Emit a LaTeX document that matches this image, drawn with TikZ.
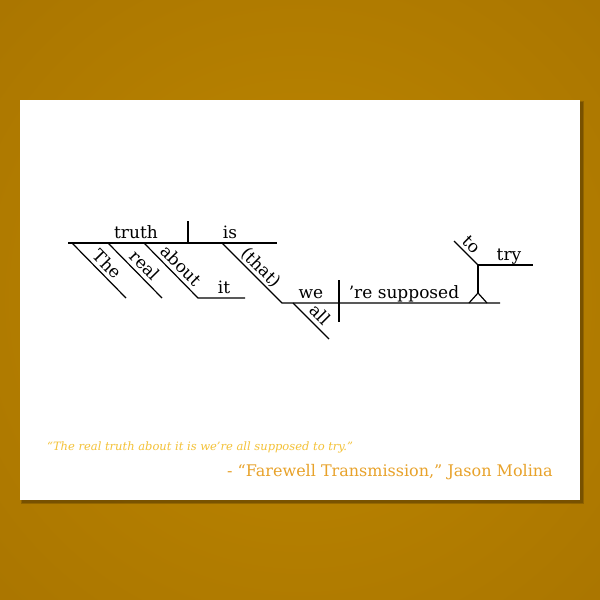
\documentclass[tikz,border=0pt]{standalone}
\usepackage{fontspec}
\setmainfont{DejaVu Serif}
\definecolor{bgin}{HTML}{BE8800}
\definecolor{bgout}{HTML}{9E6A00}
\definecolor{shadowc}{HTML}{5A3C00}
\definecolor{quotec}{HTML}{F4C238}
\definecolor{attrc}{HTML}{E8A22A}
\begin{document}
\begin{tikzpicture}[x=1pt,y=-1pt,
  rule/.style={line width=1.2pt, black},
  word/.style={font=\fontsize{17}{17}\selectfont, inner sep=0pt, anchor=base},
  slword/.style={font=\fontsize{17}{17}\selectfont, inner sep=0pt, outer sep=4.5pt, text depth=0pt, sloped, above}]
\useasboundingbox (0,0) rectangle (600,600);
\begin{scope}
\clip (0,0) rectangle (600,600);
\shade[inner color=bgin, outer color=bgout] (-400,-400) rectangle (1000,1000);
\end{scope}
% card
\fill[shadowc, opacity=0.35] (21,101) rectangle (584,504);
\fill[shadowc, opacity=0.45] (22,102) rectangle (583,503);
\fill[white] (20,100) rectangle (580,500);

% coordinates
\coordinate (b1s) at (68,243);
\coordinate (b1e) at (277,243);
\coordinate (d1t) at (188,221);
\coordinate (d1b) at (188,243);
\coordinate (theS) at (72,243);
\coordinate (theE) at (126,298);
\coordinate (realS) at (108,243);
\coordinate (realE) at (162,298);
\coordinate (abS) at (144,243);
\coordinate (abC) at (198,298);
\coordinate (abE) at (245,298);
\coordinate (thS) at (222,243);
\coordinate (thC) at (282,303);
\coordinate (b2e) at (500,303);
\coordinate (d2t) at (339,280);
\coordinate (d2b) at (339,322);
\coordinate (allS) at (293,303);
\coordinate (allE) at (329,339);
\coordinate (trL) at (469,303);
\coordinate (trA) at (478,293);
\coordinate (trR) at (487,303);
\coordinate (inf) at (478,265);
\coordinate (infE) at (533,265);
\coordinate (toS) at (454,241);

% main clause
\draw[rule] (b1s) -- (b1e);
\draw[rule] (d1t) -- (d1b);
\draw[rule] (theS) -- node[slword, pos=0.52] (lThe) {The} (theE);
\draw[rule] (realS) -- node[slword, pos=0.54] (lReal) {real} (realE);
\draw[rule] (abS) -- node[slword, pos=0.55] (lAbout) {about} (abC) -- (abE);
\draw[rule] (thS) -- node[slword, pos=0.53] (lThat) {(that)} (thC) -- (b2e);
\draw[rule] (d2t) -- (d2b);
\draw[rule] (allS) -- node[slword, pos=0.54] (lAll) {all} (allE);
\draw[rule] (trL) -- (trA) -- (trR);
\draw[rule] (trA) -- (inf);
\draw[rule] (inf) -- (infE);
\draw[rule] (toS) -- node[slword, pos=0.45] (lTo) {to} (inf);

\node[word] (lTruth) at (136,238) {truth};
\node[word] (lIs) at (230,238) {is};
\node[word] (lIt) at (224,293) {it};
\node[word] (lWe) at (311,298) {we};
\node[word] (lSupp) at (404,298) {’re supposed};
\node[word] (lTry) at (509,260) {try};

% quote
\node[font=\itshape\fontsize{11.5}{13}\selectfont, text=quotec, inner sep=0pt, anchor=base west] (quote) at (47,450) {“The real truth about it is we’re all supposed to try.”};
\node[font=\fontsize{16}{18}\selectfont, text=attrc, inner sep=0pt, anchor=base east] (attr) at (553,476) {- “Farewell Transmission,” Jason Molina};
\end{tikzpicture}
\end{document}
